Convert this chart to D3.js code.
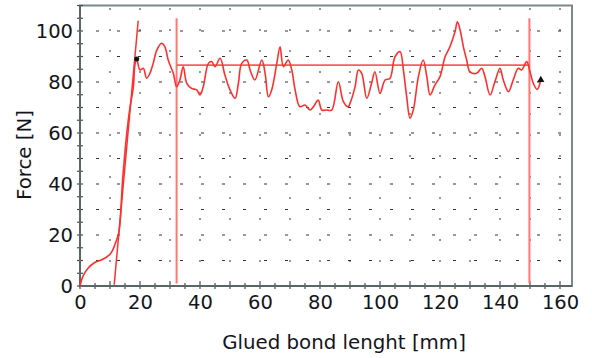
<!DOCTYPE html>
<html>
<head>
<meta charset="utf-8">
<script src="https://cdnjs.cloudflare.com/ajax/libs/d3/7.8.5/d3.min.js"></script>
<style>
  html, body { margin: 0; padding: 0; background: #fff; }
  svg text { font-family: "DejaVu Sans", sans-serif; fill: #141420; }
</style>
</head>
<body>
<div id="chart"></div>
<script>
// force curve (mm, N)
const lengthMm = [0, 0.9, 2.6, 4.8, 7.6, 9.8, 10.9, 12, 12.9, 13.4, 14.2, 14.8, 15.6, 16.7, 17.8, 18.3, 18.9,
  20, 21.1, 22.2, 23.3, 24.4, 25.6, 27.2, 28.3, 29.4, 31.1, 32.2, 33.3, 34.4, 35.6, 37.2, 38.9, 40,
  41.1, 42.8, 43.9, 45, 46.7, 48.3, 50, 51.7, 52.8, 53.9, 55.6, 56.7, 58.3, 60.6, 61.7, 62.8, 63.9,
  65.6, 66.7, 67.8, 69.4, 70.6, 71.7, 73.3, 75, 76.7, 77.8, 79.4, 80.6, 82.2, 83.9, 86.1, 87.8, 89.4,
  90, 91.7, 92.8, 93.9, 95.6, 97.2, 98.3, 100, 101.7, 103.3, 105, 106.7, 107.8, 108.9, 110, 111.1,
  112.8, 114.4, 115.6, 116.7, 118.3, 120, 121.7, 123.3, 125, 125.8, 126.7, 127.8, 128.9, 130, 132.2,
  133.9, 135, 136.7, 138.3, 140, 141.1, 142.8, 144.4, 146.1, 147.2, 148.9, 150, 151.1, 152.4, 153.6];
const forceN = [0, 3.6, 6.9, 9.1, 10.5, 12.2, 14.1, 17.4, 20.7, 25.9, 41.6, 50, 60, 70.3, 78.2, 86.7, 89,
  84.7, 85.4, 81.5, 83.4, 87.3, 92.5, 95.2, 93.8, 88.6, 83.4, 78.2, 80.8, 86, 79.5, 77.5, 76.9, 74.9,
  78.2, 87.3, 88, 86, 89.3, 82.7, 76.9, 73.6, 79.5, 87.3, 88.6, 84.7, 80.8, 88.6, 83.4, 74.2, 76.9,
  87.3, 93.8, 86, 88.6, 84.7, 76.9, 70.3, 71, 69, 70.3, 72.9, 69, 69, 69, 80.1, 72.3, 70.3,
  71.6, 78.2, 84.7, 83.4, 73.6, 79.5, 84, 75.6, 80.8, 81.4, 89.9, 91.9, 84.7, 74.2, 65.8, 69,
  82.1, 88.6, 82.1, 74.9, 78.8, 82.1, 89.9, 93.8, 99.7, 103.6, 100.4, 93.8, 88.6, 84, 83.4,
  85.4, 82.1, 74.9, 80.1, 85.4, 80.8, 76.2, 80.8, 85.4, 84.7, 88, 84, 79.5, 77.1, 80.8];

// initial slope line, evaluation window and mean force
const slopeX = [11.4, 19.4];
const slopeY = [0.5, 104];
const windowStart = 32.2, windowEnd = 149.8;
const windowTop = 105, windowBottom = 1;
const meanForce = 86.6;
const peakMarker = [18.9, 89];
const endMarker = [153.6, 80.8];

const xTicks = [0, 20, 40, 60, 80, 100, 120, 140, 160];
const yTicks = [0, 20, 40, 60, 80, 100];

const width = 592, height = 358;
const svg = d3.select("#chart").append("svg")
  .attr("width", width)
  .attr("height", height);

const x = d3.scaleLinear().domain([0, 164]).range([80, 572]);
const y = d3.scaleLinear().domain([0, 110]).range([286, 5.5]);

// dotted grid
svg.append("g").selectAll("line")
  .data(d3.range(10, 110, 10))
  .enter().append("line")
    .attr("x1", x(0) + 16).attr("x2", x(164))
    .attr("y1", d => y(d)).attr("y2", d => y(d))
    .attr("stroke", "#333")
    .attr("stroke-width", 1)
    .attr("stroke-dasharray", "3,18");
svg.append("g").selectAll("line")
  .data(d3.range(10, 164, 10))
  .enter().append("line")
    .attr("x1", d => x(d)).attr("x2", d => x(d))
    .attr("y1", y(0) - 3).attr("y2", y(110))
    .attr("stroke", "#333")
    .attr("stroke-width", 1)
    .attr("stroke-dasharray", "2,19");

// frame
svg.append("rect")
  .attr("x", x(0)).attr("y", y(110))
  .attr("width", x(164) - x(0)).attr("height", y(0) - y(110))
  .attr("fill", "none")
  .attr("stroke", "#7d8888")
  .attr("stroke-width", 2);

// cross ticks on the axes
svg.append("g").selectAll("line")
  .data(d3.range(0, 111, 5))
  .enter().append("line")
    .attr("x1", x(0) - 3).attr("x2", x(0) + 3)
    .attr("y1", d => y(d)).attr("y2", d => y(d))
    .attr("stroke", "#445050").attr("stroke-width", 1.2);
svg.append("g").selectAll("line")
  .data(d3.range(0, 165, 5))
  .enter().append("line")
    .attr("x1", d => x(d)).attr("x2", d => x(d))
    .attr("y1", y(0) - 3).attr("y2", y(0) + 3)
    .attr("stroke", "#445050").attr("stroke-width", 1.2);
svg.append("line")
  .attr("x1", x(0)).attr("x2", x(164))
  .attr("y1", y(0)).attr("y2", y(0))
  .attr("stroke", "#5a6666").attr("stroke-width", 2);
svg.append("line")
  .attr("x1", x(0)).attr("x2", x(0))
  .attr("y1", y(0)).attr("y2", y(110))
  .attr("stroke", "#5a6666").attr("stroke-width", 2);

// tick labels
const xAxis = svg.append("g")
  .attr("transform", `translate(0,${y(0)})`)
  .call(d3.axisBottom(x).tickValues(xTicks).tickSize(0).tickPadding(8));
xAxis.select(".domain").remove();
xAxis.selectAll("text").style("font-size", "19.5px").attr("dy", "0.75em");

const yAxis = svg.append("g")
  .attr("transform", `translate(${x(0)},0)`)
  .call(d3.axisLeft(y).tickValues(yTicks).tickSize(0).tickPadding(7));
yAxis.select(".domain").remove();
yAxis.selectAll("text").style("font-size", "19.5px");

// axis titles
svg.append("text")
  .attr("x", 344).attr("y", 349)
  .attr("text-anchor", "middle")
  .style("font-size", "19.8px")
  .text("Glued bond lenght [mm]");
svg.append("text")
  .attr("transform", "translate(31,155) rotate(-90)")
  .attr("text-anchor", "middle")
  .style("font-size", "19.8px")
  .text("Force [N]");

// evaluation window
svg.selectAll(".win")
  .data([windowStart, windowEnd])
  .enter().append("line")
    .attr("class", "win")
    .attr("x1", d => x(d)).attr("x2", d => x(d))
    .attr("y1", y(windowBottom)).attr("y2", y(windowTop))
    .attr("stroke", "#ff7777").attr("stroke-width", 2);
svg.append("line")
  .attr("x1", x(windowStart)).attr("x2", x(windowEnd))
  .attr("y1", y(meanForce)).attr("y2", y(meanForce))
  .attr("stroke", "#ff5c5c").attr("stroke-width", 1.8);

// initial slope
svg.append("line")
  .attr("x1", x(slopeX[0])).attr("x2", x(slopeX[1]))
  .attr("y1", y(slopeY[0])).attr("y2", y(slopeY[1]))
  .attr("stroke", "#ff3030").attr("stroke-width", 1.5);

// force curve
const line = d3.line()
  .x((d, i) => x(lengthMm[i]))
  .y(d => y(d))
  .curve(d3.curveCatmullRom.alpha(0.5));
svg.append("path")
  .datum(forceN)
  .attr("d", line)
  .attr("fill", "none")
  .attr("stroke", "#ff2f2f")
  .attr("stroke-width", 1.6)
  .attr("stroke-linejoin", "round");

// markers
svg.append("circle")
  .attr("cx", x(peakMarker[0])).attr("cy", y(peakMarker[1]))
  .attr("r", 2.5).attr("fill", "#111");
svg.append("path")
  .attr("transform", `translate(${x(endMarker[0])},${y(endMarker[1])})`)
  .attr("d", d3.symbol().type(d3.symbolTriangle).size(22))
  .attr("fill", "#111");
</script>
</body>
</html>
